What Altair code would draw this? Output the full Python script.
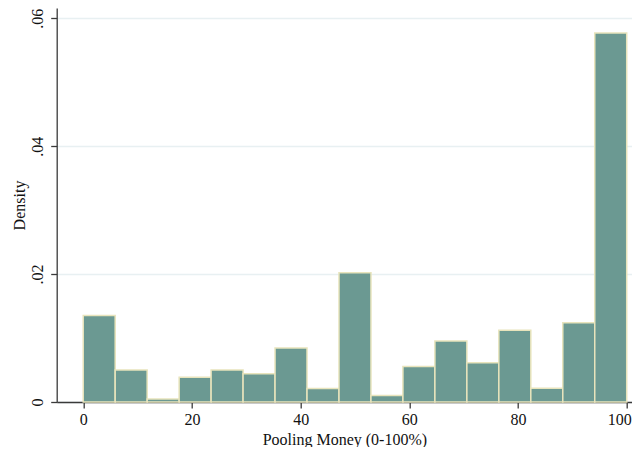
import altair as alt
import pandas as pd

# Histogram: 17 equal-width bins over 0-100
n_bins = 17
bin_lo = 0.0
bin_hi = 100.0
density = [0.01354, 0.00499, 0.00046, 0.00386, 0.00499, 0.00443, 0.00845,
           0.00212, 0.02023, 0.00103, 0.00556, 0.00953, 0.00613, 0.01123,
           0.00216, 0.01240, 0.05770]
x_ticks = [0, 20, 40, 60, 80, 100]
y_ticks = [0, 0.02, 0.04, 0.06]

w = (bin_hi - bin_lo) / n_bins
df = pd.DataFrame({
    "start": [bin_lo + i * w for i in range(n_bins)],
    "end": [bin_lo + (i + 1) * w for i in range(n_bins)],
    "density": density,
})

FONT = "Liberation Serif"

chart = alt.Chart(df).mark_rect(
    fill="#6b9992", stroke="#e8e4bc", strokeWidth=1.5
).encode(
    x=alt.X("start:Q",
            scale=alt.Scale(domain=[-4.88, 100.97], nice=False, zero=False),
            axis=alt.Axis(values=x_ticks, title="Pooling Money (0-100%)",
                          grid=False, tickSize=6, labelPadding=3,
                          labelOffset={"condition": {"test": "datum.value == 100", "value": -7.5}, "value": 0},
                          labelOverlap=False,
                          titleY=42, titleBaseline="alphabetic")),
    x2="end:Q",
    y=alt.Y("density:Q",
            scale=alt.Scale(domain=[0, 0.06161], nice=False),
            axis=alt.Axis(values=y_ticks, title="Density",
                          labelExpr="datum.value == 0 ? '0' : slice(format(datum.value, '.2f'), 1)",
                          labelAngle=270, labelAlign="center",
                          labelBaseline="alphabetic", labelPadding=8.5,
                          labelOverlap=False,
                          tickSize=6, grid=True, gridColor="#e8f0f2",
                          gridWidth=1.5,
                          titleAngle=270, titleX=-32.2,
                          titleBaseline="alphabetic")),
    y2=alt.datum(0),
).properties(
    width=575.3,
    height=394,
    autosize=alt.AutoSizeParams(type="none"),
    padding={"left": 48.7, "top": 0, "right": 0, "bottom": 45},
).configure_view(
    stroke=None
).configure_axis(
    domainColor="#3a3a3a", domainWidth=1.3,
    tickColor="#3a3a3a", tickWidth=1.3,
    labelFont=FONT, labelFontSize=16, labelColor="#111111",
    titleFont=FONT, titleFontSize=16, titleFontWeight="normal",
    titleColor="#111111",
)

chart.save("out.html", embed_options={"renderer": "svg", "actions": False})
